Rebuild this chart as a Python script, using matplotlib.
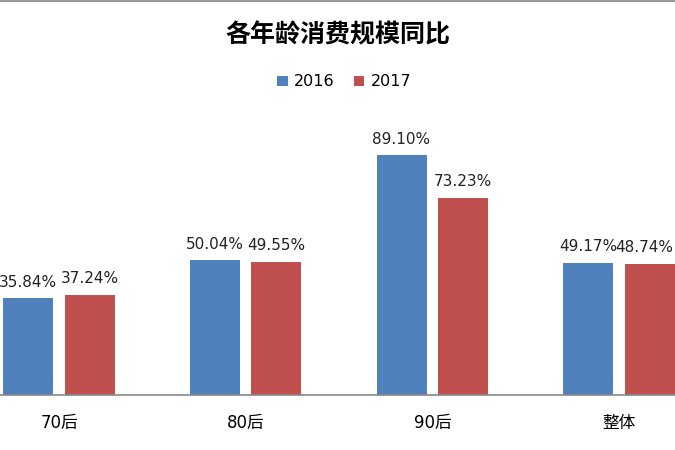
import matplotlib.pyplot as plt
import numpy as np
from matplotlib.lines import Line2D

plt.rcParams['font.family'] = ['DejaVu Sans', 'Noto Sans CJK SC']

# data
categories = ['70后', '80后', '90后', '整体']
series_names = ['2016', '2017']
vals_2016 = [35.84, 50.04, 89.10, 49.17]
vals_2017 = [37.24, 49.55, 73.23, 48.74]
colors = ['#4F81BD', '#C0504D']

fig = plt.figure(figsize=(6.75, 4.5), dpi=100)
ax = fig.add_axes([0, 55 / 450, 1, 269.4 / 450])

x = np.arange(len(categories))
w = 0.268
off = 0.165
b1 = ax.bar(x - off, vals_2016, w, color=colors[0], label=series_names[0])
b2 = ax.bar(x + off, vals_2017, w, color=colors[1], label=series_names[1])

for bars, vals in [(b1, vals_2016), (b2, vals_2017)]:
    for rect, v in zip(bars, vals):
        cx = rect.get_x() + rect.get_width() / 2
        dx = -4 if cx > 3 else 0  # keep the right-most label inside the frame
        ax.annotate(f'{v:.2f}%', (cx, v),
                    xytext=(dx, 6), textcoords='offset points',
                    ha='center', va='bottom', fontsize=11, color='#222222')

ax.set_xlim(-0.316, 3.30)
ax.set_ylim(0, 100)
ax.set_xticks(x)
ax.set_xticklabels(categories, fontsize=12)
ax.tick_params(axis='x', length=0, pad=14)
ax.set_yticks([])
for s in ['top', 'right', 'left']:
    ax.spines[s].set_visible(False)
ax.spines['bottom'].set_color('#888888')
ax.spines['bottom'].set_linewidth(1.2)

fig.text(0.5, 1 - 35 / 450, '各年龄消费规模同比', ha='center', va='center',
         fontsize=18, fontweight='bold', family=['Noto Sans CJK SC'])
fig.legend(loc='center', bbox_to_anchor=(0.51, 1 - 82 / 450), ncol=2,
           frameon=False, fontsize=11.5, handlelength=0.65, handleheight=0.65,
           handletextpad=0.4, columnspacing=1.2)

fig.add_artist(Line2D([0, 1], [0.998, 0.998], color='#999999', lw=1.5,
                      transform=fig.transFigure))

fig.savefig('out.png', dpi=100)
